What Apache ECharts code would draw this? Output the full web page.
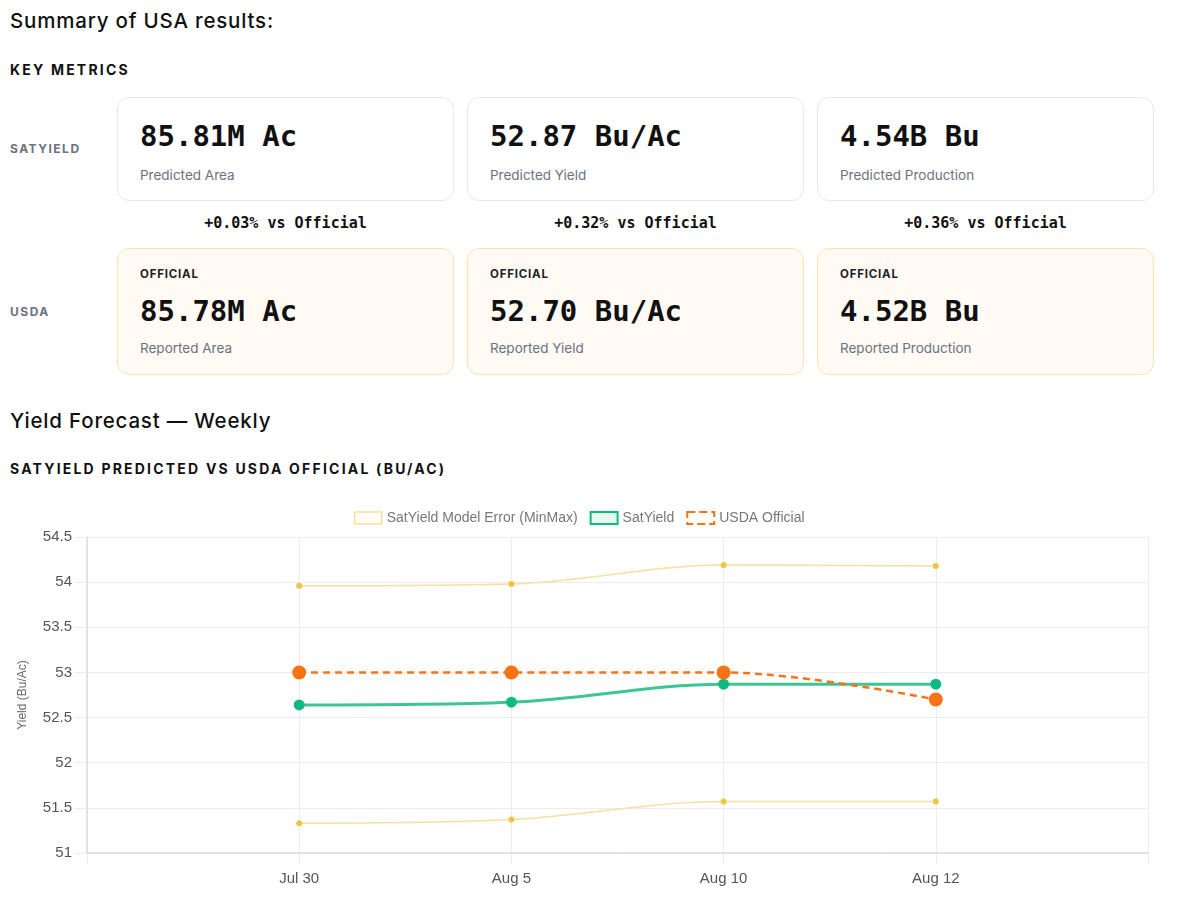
<!DOCTYPE html>
<html>
<head>
<meta charset="utf-8">
<script src="https://cdn.jsdelivr.net/npm/echarts@6/dist/echarts.min.js"></script>
<style>
  body { margin: 0; background: #fff; font-family: Inter, "Noto Sans", sans-serif; color: #111; }
  #page { position: relative; width: 1180px; height: 906px; overflow: hidden; }
  .abs { position: absolute; }
  .h1 { font-size: 20.5px; font-weight: 500; letter-spacing: 0.8px; }
  .cap { font-size: 14px; font-weight: 700; letter-spacing: 2.2px; }
  .rowlbl { font-size: 12px; font-weight: 700; letter-spacing: 1.5px; color: #6b7280; left: 10px; }
  .card { position: absolute; width: 337px; box-sizing: border-box; border-radius: 12px; padding-left: 22px; }
  .pred { top: 97px; height: 104px; border: 1.5px solid #e7e8eb; background: #fff; padding-top: 18px; }
  .off { top: 248px; height: 127px; border: 1.5px solid #fbe2ae; background: #fffbf4; padding-top: 16px; }
  .val { font-family: "DejaVu Sans Mono", monospace; font-weight: 700; font-size: 29px; line-height: 40px; }
  .lbl { font-size: 13.5px; color: #6b7280; line-height: 20px; margin-top: 9px; }
  .off .val { margin-top: 8px; }
  .off .lbl { margin-top: 7px; }
  .tag { font-size: 11.5px; font-weight: 700; letter-spacing: 0.8px; line-height: 18px; color: #222; }
  .delta { position: absolute; top: 213px; width: 337px; text-align: center; font-family: "DejaVu Sans Mono", monospace; font-weight: 700; font-size: 15px; line-height: 20px; }
  #chart { position: absolute; left: 0; top: 495px; width: 1180px; height: 411px; }
</style>
</head>
<body>
<div id="page">
  <div class="abs h1" style="left:10px;top:8px;">Summary of USA results:</div>
  <div class="abs cap" style="left:10px;top:61px;">KEY METRICS</div>

  <div class="abs rowlbl" style="top:141px;">SATYIELD</div>
  <div class="abs rowlbl" style="top:304px;">USDA</div>

  <div id="cards"></div>

  <div class="abs h1" style="left:10px;top:408px;">Yield Forecast — Weekly</div>
  <div class="abs cap" style="left:10px;top:460px;">SATYIELD PREDICTED VS USDA OFFICIAL (BU/AC)</div>

  <div id="chart"></div>
</div>
<script>
// --- datos de las tarjetas ---
const predValues = ['85.81M Ac', '52.87 Bu/Ac', '4.54B Bu'];
const predLabels = ['Predicted Area', 'Predicted Yield', 'Predicted Production'];
const deltas = ['+0.03% vs Official', '+0.32% vs Official', '+0.36% vs Official'];
const offValues = ['85.78M Ac', '52.70 Bu/Ac', '4.52B Bu'];
const offLabels = ['Reported Area', 'Reported Yield', 'Reported Production'];

// --- datos del gráfico ---
const weeks = ['Jul 30', 'Aug 5', 'Aug 10', 'Aug 12'];
const errorMax = [53.96, 53.98, 54.19, 54.18];
const errorMin = [51.33, 51.37, 51.57, 51.57];
const satYield = [52.64, 52.67, 52.87, 52.87];
const usdaOfficial = [53.0, 53.0, 53.0, 52.70];

const cardLeft = [117, 467, 817];

function buildCards() {
    const root = document.getElementById('cards');
    let html = '';
    cardLeft.forEach((x, i) => {
        html += `<div class="card pred" style="left:${x}px"><div class="val">${predValues[i]}</div><div class="lbl">${predLabels[i]}</div></div>`;
        html += `<div class="delta" style="left:${x}px">${deltas[i]}</div>`;
        html += `<div class="card off" style="left:${x}px"><div class="tag">OFFICIAL</div><div class="val">${offValues[i]}</div><div class="lbl">${offLabels[i]}</div></div>`;
    });
    root.innerHTML = html;
}
buildCards();

// eje con un hueco al inicio y al final (como el gráfico original)
const pad = arr => ['-'].concat(arr, ['-']);
const categories = [''].concat(weeks, ['']);

const chart = echarts.init(document.getElementById('chart'));
const gridColor = '#ececec';
const textColor = '#555';
const errLine = { color: '#f6dfa0', width: 1.5 };
const errDot = { color: '#efc43f' };

chart.setOption({
    animation: false,
    textStyle: { fontFamily: '"Liberation Sans", Arial, sans-serif' },
    legend: {
        left: 349, top: 11,
        itemWidth: 27, itemHeight: 12, itemGap: 12,
        textStyle: { color: '#777', fontSize: 14 },
        icon: 'rect',
        data: [
            { name: 'SatYield Model Error (MinMax)', itemStyle: { color: '#fffdf6', borderColor: '#f6dfa0', borderWidth: 1.5 } },
            { name: 'SatYield', itemStyle: { color: '#e7f8f1', borderColor: '#10b981', borderWidth: 2 } },
            { name: 'USDA Official', itemStyle: { color: '#fff', borderColor: '#f97316', borderWidth: 2, borderType: 'dashed' } }
        ]
    },
    grid: { left: 87, right: 32, top: 42, bottom: 53 },
    xAxis: {
        type: 'category',
        data: categories,
        boundaryGap: false,
        axisLine: { lineStyle: { color: '#dcdcdc', width: 1.5 } },
        axisTick: { length: 11, lineStyle: { color: gridColor } },
        axisLabel: { color: textColor, fontSize: 15, margin: 18 },
        splitLine: { show: true, lineStyle: { color: gridColor } }
    },
    yAxis: {
        type: 'value',
        min: 51, max: 54.5, interval: 0.5,
        name: 'Yield (Bu/Ac)',
        nameLocation: 'middle',
        nameGap: 58,
        nameTextStyle: { color: '#666', fontSize: 12 },
        axisLine: { show: true, lineStyle: { color: '#dcdcdc', width: 1.5 } },
        axisTick: { show: true, length: 12, lineStyle: { color: gridColor } },
        axisLabel: { color: textColor, fontSize: 15, margin: 15 },
        splitLine: { lineStyle: { color: gridColor } }
    },
    series: [
        {
            name: 'SatYield Model Error (MinMax)', type: 'line', data: pad(errorMax),
            smooth: 0.35, symbol: 'circle', symbolSize: 6,
            lineStyle: errLine, itemStyle: errDot, z: 2
        },
        {
            name: 'SatYield Model Error (MinMax)', type: 'line', data: pad(errorMin),
            smooth: 0.35, symbol: 'circle', symbolSize: 6,
            lineStyle: errLine, itemStyle: errDot, z: 2
        },
        {
            name: 'SatYield', type: 'line', data: pad(satYield),
            smooth: 0.35, symbol: 'circle', symbolSize: 11,
            lineStyle: { color: '#3ec592', width: 3 },
            itemStyle: { color: '#10b981' }, z: 3
        },
        {
            name: 'USDA Official', type: 'line', data: pad(usdaOfficial),
            smooth: 0.35, symbol: 'circle', symbolSize: 14,
            lineStyle: { color: '#f97316', width: 2.5, type: [7, 5] },
            itemStyle: { color: '#f97316' }, z: 4
        }
    ]
});
</script>
</body>
</html>
